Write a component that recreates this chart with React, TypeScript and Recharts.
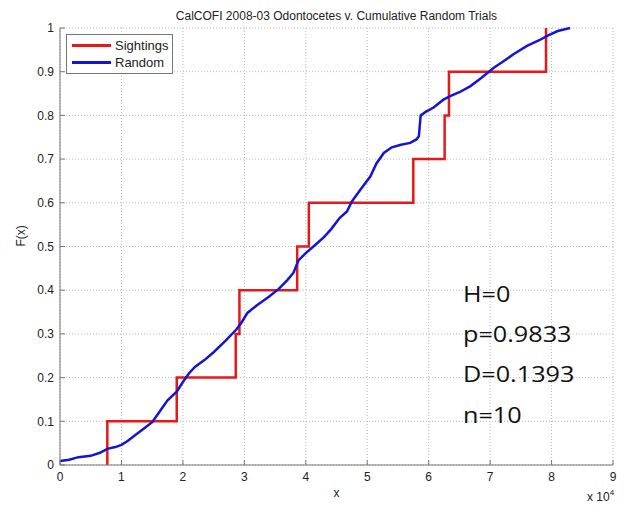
import { CartesianGrid, Legend, Line, LineChart, XAxis, YAxis } from "recharts";

const X_TICKS = [0, 1, 2, 3, 4, 5, 6, 7, 8, 9];
const Y_TICKS = [0, 0.1, 0.2, 0.3, 0.4, 0.5, 0.6, 0.7, 0.8, 0.9, 1];

// sighting distances (x 10^4), sorted
const SIGHTINGS = [0.77, 1.9, 2.86, 2.92, 3.86, 4.05, 5.75, 6.26, 6.33, 7.91];

// cumulative random trials
const RANDOM_X = [
  0, 0.15, 0.3, 0.5, 0.65, 0.77, 0.9, 1.0, 1.1, 1.2, 1.35, 1.5, 1.6, 1.75, 1.9,
  2.0, 2.1, 2.2, 2.35, 2.5, 2.7, 2.87, 2.95, 3.05, 3.2, 3.4, 3.56, 3.7, 3.8,
  3.88, 4.0, 4.18, 4.3, 4.42, 4.55, 4.67, 4.75, 4.9, 5.05, 5.15, 5.27, 5.4,
  5.55, 5.7, 5.8, 5.84, 5.87, 5.95, 6.08, 6.24, 6.35, 6.5, 6.68, 6.85, 7.06,
  7.2, 7.38, 7.6, 7.8, 7.93, 8.1, 8.3,
];
const RANDOM_F = [
  0.009, 0.012, 0.018, 0.021, 0.028, 0.037, 0.041, 0.046, 0.055, 0.066, 0.082,
  0.098, 0.118, 0.148, 0.168, 0.19, 0.21, 0.225, 0.24, 0.258, 0.285, 0.31,
  0.325, 0.348, 0.365, 0.385, 0.403, 0.423, 0.44, 0.468, 0.485, 0.507, 0.522,
  0.541, 0.565, 0.58, 0.603, 0.632, 0.66, 0.69, 0.714, 0.727, 0.733, 0.737,
  0.745, 0.752, 0.8, 0.808, 0.818, 0.836, 0.844, 0.853, 0.867, 0.885, 0.909,
  0.922, 0.94, 0.959, 0.972, 0.982, 0.993, 1.0,
];

const SERIES_NAMES = ["Sightings", "Random"];
const STATS = ["H=0", "p=0.9833", "D=0.1393", "n=10"];

const sightingData = [
  { x: SIGHTINGS[0], f: 0 },
  ...SIGHTINGS.map((x, i) => ({ x, f: (i + 1) / SIGHTINGS.length })),
];
const randomData = RANDOM_X.map((x, i) => ({ x, f: RANDOM_F[i] }));

const FONT = "Arial, 'Liberation Sans', sans-serif";
const AXIS_COLOR = "#777";
const RED = "#e81818";
const BLUE = "#1414d8";

function LegendBox({ payload }: { payload?: any[] }) {
  const items = [...(payload || [])].sort(
    (a, b) => SERIES_NAMES.indexOf(a.value) - SERIES_NAMES.indexOf(b.value)
  );
  return (
    <div
      style={{
        border: `1px solid ${AXIS_COLOR}`,
        background: "#fff",
        padding: "2px 0 2px 5px",
        fontFamily: FONT,
        fontSize: 13,
        color: "#222",
      }}
    >
      {items.map((item) => (
        <div key={item.value} style={{ display: "flex", alignItems: "center", height: 17 }}>
          <span
            style={{
              display: "inline-block",
              width: 39,
              height: 3,
              background: item.color,
              marginRight: 4,
            }}
          />
          {item.value}
        </div>
      ))}
    </div>
  );
}

export default function App() {
  return (
    <div style={{ position: "absolute", left: 0, top: 0, width: 629, height: 505, background: "#fff" }}>
      <div
        style={{
          position: "absolute",
          left: 60,
          width: 553,
          top: 9,
          textAlign: "center",
          fontFamily: FONT,
          fontSize: 12,
          color: "#222",
        }}
      >
        CalCOFI 2008-03 Odontocetes v. Cumulative Random Trials
      </div>
      <LineChart
        width={629}
        height={505}
        margin={{ top: 28, right: 16, left: 0, bottom: 0 }}
      >
        <CartesianGrid stroke="#b8b8b8" strokeDasharray="1 2" />
        <XAxis
          dataKey="x"
          type="number"
          domain={[0, 9]}
          ticks={X_TICKS}
          height={40}
          stroke={AXIS_COLOR}
          tickSize={-5}
          tickMargin={12}
          tick={{ fill: "#222", fontSize: 12, fontFamily: FONT }}
          label={{ value: "x", position: "insideBottom", offset: 8, fill: "#222", fontSize: 12, fontFamily: FONT }}
        />
        <XAxis
          xAxisId="top"
          orientation="top"
          dataKey="x"
          type="number"
          domain={[0, 9]}
          ticks={X_TICKS}
          height={0}
          stroke={AXIS_COLOR}
          tickSize={-5}
          tick={() => <g />}
        />
        <YAxis
          type="number"
          domain={[0, 1]}
          ticks={Y_TICKS}
          width={60}
          stroke={AXIS_COLOR}
          tickSize={-5}
          tickMargin={11}
          tick={{ fill: "#222", fontSize: 12, fontFamily: FONT }}
          label={{ value: "F(x)", angle: -90, position: "insideLeft", offset: 21, fill: "#222", fontSize: 12, fontFamily: FONT }}
        />
        <YAxis
          yAxisId="right"
          orientation="right"
          type="number"
          domain={[0, 1]}
          ticks={Y_TICKS}
          width={0}
          stroke={AXIS_COLOR}
          tickSize={-5}
          tick={() => <g />}
        />
        <Legend
          layout="vertical"
          align="center"
          verticalAlign="middle"
          wrapperStyle={{ left: 66, top: 34, width: 107, height: 38 }}
          content={(props: any) => <LegendBox payload={props.payload} />}
        />
        <Line
          name="Sightings"
          data={sightingData}
          dataKey="f"
          type="stepAfter"
          stroke={RED}
          strokeWidth={2.5}
          dot={false}
          isAnimationActive={false}
        />
        <Line
          name="Random"
          data={randomData}
          dataKey="f"
          type="linear"
          stroke={BLUE}
          strokeWidth={2.5}
          dot={false}
          isAnimationActive={false}
        />
      </LineChart>
      <div
        style={{
          position: "absolute",
          left: 587,
          top: 488,
          fontFamily: FONT,
          fontSize: 12,
          color: "#222",
        }}
      >
        x 10<sup style={{ fontSize: 8, verticalAlign: "6px" }}>4</sup>
      </div>
      {STATS.map((s, i) => (
        <div
          key={s}
          style={{
            position: "absolute",
            left: 463,
            top: 279 + i * 40.2,
            fontFamily: "'Open Sans', sans-serif",
            fontSize: 21,
            lineHeight: "30px",
            color: "#111",
            transform: "scaleX(1.2)",
            transformOrigin: "left center",
            whiteSpace: "nowrap",
          }}
        >
          {s}
        </div>
      ))}
    </div>
  );
}
